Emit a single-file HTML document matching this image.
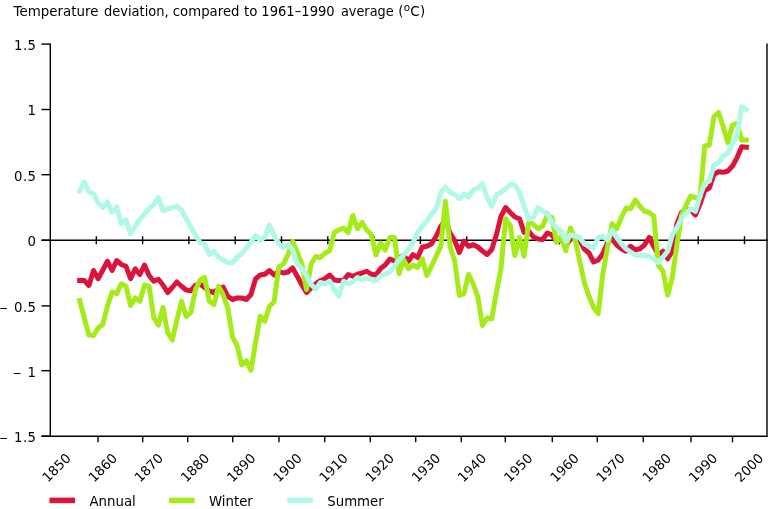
<!DOCTYPE html>
<html><head><meta charset="utf-8"><title>Temperature deviation</title>
<style>
html,body{margin:0;padding:0;background:#fff;}
svg{display:block;}
text{font-family:"DejaVu Sans","Liberation Sans",sans-serif;fill:#000;}
</style></head><body>
<svg width="768" height="509" viewBox="0 0 768 509">
<rect width="768" height="509" fill="#fff"/>

<g stroke="#000" stroke-width="1.4" fill="none" shape-rendering="auto">
<path d="M50.3 43.4V436.9"/>
<path d="M41.5 240.2H768"/>
<path d="M41.5 436.2H767V43.4"/>
<path d="M41.5 44.1H50.3"/>
<path d="M41.5 109.5H50.3"/>
<path d="M41.5 174.7H50.3"/>
<path d="M41.5 240.2H50.3"/>
<path d="M41.5 305.9H50.3"/>
<path d="M41.5 370.7H50.3"/>
<path d="M41.5 436.2H50.3"/>
<path d="M96.3 236.2V244.2"/>
<path d="M142.6 236.2V244.2"/>
<path d="M188.9 236.2V244.2"/>
<path d="M235.2 236.2V244.2"/>
<path d="M281.5 236.2V244.2"/>
<path d="M327.8 236.2V244.2"/>
<path d="M374.1 236.2V244.2"/>
<path d="M420.4 236.2V244.2"/>
<path d="M466.7 236.2V244.2"/>
<path d="M513.0 236.2V244.2"/>
<path d="M559.3 236.2V244.2"/>
<path d="M605.6 236.2V244.2"/>
<path d="M651.9 236.2V244.2"/>
<path d="M698.2 236.2V244.2"/>
<path d="M744.5 236.2V244.2"/>
<path d="M98.0 436.2V442.3"/>
<path d="M142.7 436.2V442.3"/>
<path d="M187.7 436.2V442.3"/>
<path d="M232.7 436.2V442.3"/>
<path d="M279.0 436.2V442.3"/>
<path d="M324.7 436.2V442.3"/>
<path d="M370.3 436.2V442.3"/>
<path d="M415.7 436.2V442.3"/>
<path d="M461.3 436.2V442.3"/>
<path d="M505.3 436.2V442.3"/>
<path d="M552.3 436.2V442.3"/>
<path d="M597.3 436.2V442.3"/>
<path d="M643.3 436.2V442.3"/>
<path d="M691.0 436.2V442.3"/>
<path d="M732.5 436.2V442.3"/>
</g>
<polyline points="79.65,280.50 84.28,280.50 88.91,285.50 93.54,270.50 98.17,278.75 102.80,270.00 107.43,261.25 112.06,270.50 116.69,260.50 121.32,264.50 125.95,266.25 130.58,278.75 135.21,268.75 139.84,274.50 144.47,265.00 149.10,275.50 153.73,281.25 158.36,279.25 162.99,285.00 167.62,292.50 172.25,287.50 176.88,282.00 181.51,286.25 186.14,290.00 190.77,290.75 195.40,285.50 200.03,284.00 204.66,287.50 209.29,291.25 213.92,292.50 218.55,288.75 223.18,287.00 227.81,296.25 232.44,299.50 237.07,298.00 241.70,298.00 246.33,299.50 250.96,294.50 255.59,278.75 260.22,275.00 264.85,274.25 269.48,270.50 274.11,275.00 278.74,271.25 283.37,273.00 288.00,272.00 292.63,268.00 297.26,276.25 301.89,285.00 306.52,292.50 311.15,288.00 315.78,283.75 320.41,280.50 325.04,278.75 329.67,275.00 334.30,280.00 338.93,280.50 343.56,280.50 348.19,274.50 352.82,276.25 357.45,274.25 362.08,273.00 366.71,271.25 371.34,274.25 375.97,275.00 380.60,268.50 385.23,265.00 389.86,259.00 394.49,261.00 399.12,258.00 403.75,255.50 408.38,261.25 413.01,254.50 417.64,257.50 422.27,247.00 426.90,246.25 431.53,243.75 436.16,236.25 440.79,226.25 445.42,220.00 450.05,233.00 454.68,240.50 459.31,252.50 463.94,241.00 468.57,246.25 473.20,244.75 477.83,247.00 482.46,251.00 487.09,254.50 491.72,249.50 496.35,235.00 500.98,216.25 505.61,207.50 510.24,212.50 514.87,217.00 519.50,218.75 524.13,232.50 528.76,231.25 533.39,237.00 538.02,239.00 542.65,239.50 547.28,233.00 551.91,235.00 556.54,241.50 561.17,239.50 565.80,246.00 570.43,239.00 575.06,237.50 579.69,240.00 584.32,249.00 588.95,253.00 593.58,262.00 598.21,260.00 602.84,253.75 607.47,243.00 612.10,238.75 616.73,245.00 621.36,248.75 625.99,251.25 630.62,246.25 635.25,250.00 639.88,248.75 644.51,245.00 649.14,237.50 653.77,246.25 658.40,255.00 663.03,251.25 667.66,258.75 672.29,251.25 676.92,223.75 681.55,212.50 686.18,209.50 690.81,210.00 695.44,215.00 700.07,204.00 704.70,190.50 709.33,188.00 713.96,174.20 718.59,171.80 723.22,172.30 727.85,171.00 732.48,166.00 737.11,157.60 741.74,146.80 746.37,147.30" fill="none" stroke="#dc143c" stroke-width="5" stroke-linejoin="round" stroke-linecap="square"/>
<polyline points="79.65,300.50 84.28,318.00 88.91,335.00 93.54,335.50 98.17,328.00 102.80,324.50 107.43,306.25 112.06,292.00 116.69,293.75 121.32,283.75 125.95,286.25 130.58,305.50 135.21,298.00 139.84,301.25 144.47,285.00 149.10,286.25 153.73,317.50 158.36,325.00 162.99,307.50 167.62,332.50 172.25,340.00 176.88,320.00 181.51,301.25 186.14,316.25 190.77,312.50 195.40,290.00 200.03,280.00 204.66,277.50 209.29,301.25 213.92,304.50 218.55,286.25 223.18,295.00 227.81,308.00 232.44,337.00 237.07,345.50 241.70,365.00 246.33,361.00 250.96,370.30 255.59,342.50 260.22,316.25 264.85,321.25 269.48,306.25 274.11,302.00 278.74,267.00 283.37,264.00 288.00,254.50 292.63,241.25 297.26,252.50 301.89,263.75 306.52,289.50 311.15,264.00 315.78,256.50 320.41,257.50 325.04,253.00 329.67,250.75 334.30,232.50 338.93,230.00 343.56,228.00 348.19,232.50 352.82,215.50 357.45,228.75 362.08,222.50 366.71,230.00 371.34,234.50 375.97,255.00 380.60,243.00 385.23,250.00 389.86,237.50 394.49,237.50 399.12,273.75 403.75,260.00 408.38,268.75 413.01,265.00 417.64,267.50 422.27,258.75 426.90,275.50 431.53,266.25 436.16,256.25 440.79,246.25 445.42,201.25 450.05,246.25 454.68,260.50 459.31,295.50 463.94,293.75 468.57,274.50 473.20,283.75 477.83,297.00 482.46,325.50 487.09,318.00 491.72,318.75 496.35,292.50 500.98,268.75 505.61,218.75 510.24,225.50 514.87,255.50 519.50,237.50 524.13,256.25 528.76,222.00 533.39,224.50 538.02,228.75 542.65,226.00 547.28,215.50 551.91,217.50 556.54,242.50 561.17,236.50 565.80,251.00 570.43,228.00 575.06,239.00 579.69,261.00 584.32,282.50 588.95,296.25 593.58,307.50 598.21,313.75 602.84,273.75 607.47,247.50 612.10,223.75 616.73,228.75 621.36,217.50 625.99,208.00 630.62,208.75 635.25,200.00 639.88,206.25 644.51,211.25 649.14,212.50 653.77,216.25 658.40,265.00 663.03,271.25 667.66,295.00 672.29,277.50 676.92,245.00 681.55,215.00 686.18,205.00 690.81,196.00 695.44,197.70 700.07,197.00 704.70,146.00 709.33,145.00 713.96,116.70 718.59,112.50 723.22,126.80 727.85,142.60 732.48,125.00 737.11,123.30 741.74,140.00 746.37,140.00" fill="none" stroke="#a5eb19" stroke-width="5" stroke-linejoin="round" stroke-linecap="square"/>
<polyline points="79.65,191.25 84.28,182.00 88.91,192.00 93.54,193.75 98.17,203.00 102.80,207.50 107.43,202.00 112.06,212.50 116.69,207.00 121.32,223.75 125.95,220.00 130.58,233.75 135.21,226.25 139.84,219.50 144.47,213.75 149.10,208.75 153.73,204.50 158.36,197.50 162.99,210.75 167.62,208.75 172.25,208.00 176.88,206.25 181.51,210.00 186.14,218.75 190.77,227.00 195.40,235.00 200.03,242.50 204.66,244.25 209.29,254.50 213.92,251.25 218.55,257.00 223.18,260.00 227.81,262.50 232.44,262.50 237.07,257.50 241.70,253.75 246.33,248.00 250.96,242.50 255.59,235.50 260.22,240.50 264.85,237.00 269.48,225.00 274.11,235.50 278.74,243.75 283.37,247.50 288.00,244.50 292.63,250.00 297.26,264.00 301.89,268.75 306.52,275.50 311.15,284.50 315.78,289.00 320.41,282.50 325.04,283.75 329.67,281.25 334.30,290.00 338.93,296.25 343.56,281.25 348.19,283.75 352.82,282.00 357.45,277.50 362.08,280.00 366.71,278.00 371.34,279.50 375.97,280.50 380.60,276.00 385.23,274.00 389.86,272.00 394.49,266.00 399.12,260.00 403.75,255.00 408.38,249.50 413.01,242.50 417.64,232.50 422.27,226.25 426.90,221.25 431.53,213.75 436.16,208.75 440.79,192.50 445.42,187.00 450.05,192.50 454.68,194.50 459.31,198.75 463.94,193.75 468.57,197.00 473.20,190.00 477.83,188.00 482.46,183.75 487.09,197.50 491.72,206.25 496.35,195.00 500.98,192.50 505.61,188.75 510.24,184.50 514.87,185.00 519.50,192.50 524.13,206.25 528.76,219.50 533.39,217.50 538.02,207.50 542.65,211.25 547.28,213.00 551.91,222.50 556.54,228.00 561.17,231.00 565.80,241.25 570.43,235.00 575.06,236.00 579.69,237.50 584.32,243.75 588.95,246.25 593.58,248.00 598.21,237.50 602.84,236.25 607.47,240.00 612.10,230.00 616.73,237.50 621.36,243.75 625.99,248.75 630.62,252.00 635.25,255.00 639.88,255.50 644.51,255.50 649.14,256.25 653.77,258.75 658.40,262.50 663.03,257.00 667.66,251.25 672.29,235.00 676.92,227.50 681.55,218.00 686.18,213.00 690.81,208.80 695.44,211.30 700.07,196.00 704.70,183.50 709.33,181.00 713.96,165.00 718.59,162.60 723.22,155.90 727.85,153.00 732.48,144.20 737.11,135.00 741.74,106.70 746.37,109.70" fill="none" stroke="#b0f8e8" stroke-width="5" stroke-linejoin="round" stroke-linecap="square"/>
<text x="13.6" y="15.5" font-size="13.4">Temperature</text>
<text x="103.9" y="15.5" font-size="13.4" textLength="64.8" lengthAdjust="spacingAndGlyphs">deviation,</text>
<text x="172.8" y="15.5" font-size="13.4" textLength="66.7" lengthAdjust="spacingAndGlyphs">compared</text>
<text x="244" y="15.5" font-size="13.4">to</text>
<text x="261.3" y="15.5" font-size="13.4" textLength="73.4" lengthAdjust="spacingAndGlyphs">1961–1990</text>
<text x="340.9" y="15.5" font-size="13.4" textLength="52.8" lengthAdjust="spacingAndGlyphs">average</text>
<text x="398.2" y="15.5" font-size="13.4" textLength="27" lengthAdjust="spacing">(<tspan font-size="10.5" dy="-4.4">o</tspan><tspan dy="4.4">C)</tspan></text>
<text x="36" y="49.9" font-size="13.3" text-anchor="end" textLength="22" lengthAdjust="spacing">1.5</text>
<text x="36" y="115.3" font-size="13.3" text-anchor="end">1</text>
<text x="36" y="180.5" font-size="13.3" text-anchor="end" textLength="22" lengthAdjust="spacing">0.5</text>
<text x="36" y="246.0" font-size="13.3" text-anchor="end">0</text>
<text x="36" y="311.7" font-size="13.3" text-anchor="end" textLength="22" lengthAdjust="spacing">0.5</text>
<text x="-0.60" y="311.7" font-size="13.3" textLength="8.2" lengthAdjust="spacingAndGlyphs">–</text>
<text x="36" y="376.5" font-size="13.3" text-anchor="end">1</text>
<text x="12.93" y="376.5" font-size="13.3" textLength="8.2" lengthAdjust="spacingAndGlyphs">–</text>
<text x="36" y="442.0" font-size="13.3" text-anchor="end" textLength="22" lengthAdjust="spacing">1.5</text>
<text x="-0.60" y="442.0" font-size="13.3" textLength="8.2" lengthAdjust="spacingAndGlyphs">–</text>
<text transform="translate(56.5 467.8) rotate(-45)" font-size="13.3" text-anchor="middle" y="4.6">1850</text>
<text transform="translate(102.7 467.8) rotate(-45)" font-size="13.3" text-anchor="middle" y="4.6">1860</text>
<text transform="translate(148.8 467.8) rotate(-45)" font-size="13.3" text-anchor="middle" y="4.6">1870</text>
<text transform="translate(195.0 467.8) rotate(-45)" font-size="13.3" text-anchor="middle" y="4.6">1880</text>
<text transform="translate(241.2 467.8) rotate(-45)" font-size="13.3" text-anchor="middle" y="4.6">1890</text>
<text transform="translate(287.4 467.8) rotate(-45)" font-size="13.3" text-anchor="middle" y="4.6">1900</text>
<text transform="translate(333.5 467.8) rotate(-45)" font-size="13.3" text-anchor="middle" y="4.6">1910</text>
<text transform="translate(379.7 467.8) rotate(-45)" font-size="13.3" text-anchor="middle" y="4.6">1920</text>
<text transform="translate(425.9 467.8) rotate(-45)" font-size="13.3" text-anchor="middle" y="4.6">1930</text>
<text transform="translate(472.0 467.8) rotate(-45)" font-size="13.3" text-anchor="middle" y="4.6">1940</text>
<text transform="translate(518.2 467.8) rotate(-45)" font-size="13.3" text-anchor="middle" y="4.6">1950</text>
<text transform="translate(564.4 467.8) rotate(-45)" font-size="13.3" text-anchor="middle" y="4.6">1960</text>
<text transform="translate(610.5 467.8) rotate(-45)" font-size="13.3" text-anchor="middle" y="4.6">1970</text>
<text transform="translate(656.7 467.8) rotate(-45)" font-size="13.3" text-anchor="middle" y="4.6">1980</text>
<text transform="translate(702.9 467.8) rotate(-45)" font-size="13.3" text-anchor="middle" y="4.6">1990</text>
<text transform="translate(749.1 467.8) rotate(-45)" font-size="13.3" text-anchor="middle" y="4.6">2000</text>
<rect x="49.5" y="497.6" width="25.6" height="5.6" fill="#dc143c"/>
<text x="89.5" y="505.5" font-size="13.3">Annual</text>
<rect x="169" y="497.6" width="25.6" height="5.6" fill="#a5eb19"/>
<text x="209" y="505.5" font-size="13.3">Winter</text>
<rect x="287.3" y="497.6" width="25.6" height="5.6" fill="#b0f8e8"/>
<text x="327.3" y="505.5" font-size="13.3">Summer</text>
</svg></body></html>
